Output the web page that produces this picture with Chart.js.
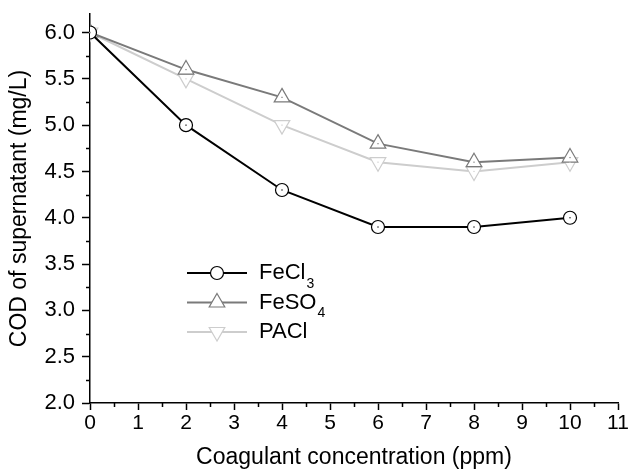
<!DOCTYPE html>
<html>
<head>
<meta charset="utf-8">
<script src="https://cdn.jsdelivr.net/npm/chart.js@4"></script>
<style>
  html, body { margin: 0; padding: 0; background: #fff; }
  #wrap { width: 630px; height: 475px; }
</style>
</head>
<body>
<div id="wrap"><canvas id="codChart" width="630" height="475"></canvas></div>
<script>
// data
const doses = [0, 2, 4, 6, 8, 10];
const fecl3 = [6.0, 5.0, 4.3, 3.9, 3.9, 4.0];
const feso4 = [6.0, 5.6, 5.3, 4.8, 4.6, 4.65];
const pacl = [6.0, 5.5, 5.0, 4.6, 4.5, 4.6];
const seriesNames = ['FeCl3', 'FeSO4', 'PACl'];
const seriesSubs = ['3', '4', ''];          // subscript part of the name
const xTicks = [0, 1, 2, 3, 4, 5, 6, 7, 8, 9, 10, 11];
const yTicks = [2.0, 2.5, 3.0, 3.5, 4.0, 4.5, 5.0, 5.5, 6.0];

const FONT = "'Liberation Sans', Arial, sans-serif";

function pts(ys) {
    return doses.map((x, i) => ({ x: x, y: ys[i] }));
}

// minor ticks + centre dots of the hollow markers
const extras = {
    id: 'extras',
    afterDatasetsDraw(chart) {
        const ctx = chart.ctx;
        const xs = chart.scales.x, ys = chart.scales.y;
        ctx.save();
        ctx.strokeStyle = '#000';
        ctx.lineWidth = 1.5;
        ctx.beginPath();
        for (let v = 0.5; v < 11; v += 1) {
            const px = Math.round(xs.getPixelForValue(v)) + 0.5;
            ctx.moveTo(px, xs.top);
            ctx.lineTo(px, xs.top + 4);
        }
        for (let v = 2.25; v < 6.2; v += 0.5) {
            const py = Math.round(ys.getPixelForValue(v)) + 0.5;
            ctx.moveTo(ys.right, py);
            ctx.lineTo(ys.right - 4, py);
        }
        ctx.stroke();
        chart.data.datasets.forEach((ds, i) => {
            chart.getDatasetMeta(i).data.forEach(p => {
                ctx.fillStyle = ds.borderColor;
                ctx.fillRect(p.x - 0.6, p.y - 0.6, 1.2, 1.2);
            });
        });
        ctx.restore();
    }
};

// legend drawn inside the plot area
const innerLegend = {
    id: 'innerLegend',
    afterDraw(chart) {
        const ctx = chart.ctx;
        ctx.save();
        chart.data.datasets.forEach((ds, i) => {
            const y = 273 + i * 29.5;
            ctx.strokeStyle = ds.borderColor;
            ctx.lineWidth = 2;
            ctx.beginPath();
            ctx.moveTo(187, y);
            ctx.lineTo(247, y);
            ctx.stroke();
            ctx.fillStyle = '#fff';
            ctx.lineWidth = 1.2;
            Chart.helpers.drawPoint(ctx, {
                pointStyle: ds.pointStyle,
                rotation: ds.pointRotation || 0,
                radius: ds.pointRadius,
                borderWidth: 1.2
            }, 217, y);
            ctx.fillStyle = '#000';
            ctx.font = '22px ' + FONT;
            ctx.textBaseline = 'middle';
            const sub = seriesSubs[i];
            const main = sub ? seriesNames[i].slice(0, -sub.length) : seriesNames[i];
            ctx.fillText(main, 259, y);
            if (sub) {
                const w = ctx.measureText(main).width;
                ctx.font = '14px ' + FONT;
                ctx.fillText(sub, 259 + w + 1, y + 11);
            }
        });
        ctx.restore();
    }
};

new Chart('codChart', {
    type: 'line',
    data: {
        datasets: [
            { label: seriesNames[0], data: pts(fecl3), borderColor: '#000000', backgroundColor: '#fff',
              borderWidth: 2, pointStyle: 'circle', pointRadius: 6.5, pointBorderWidth: 1.2, pointBackgroundColor: '#fff' },
            { label: seriesNames[1], data: pts(feso4), borderColor: '#7a7a7a', backgroundColor: '#fff',
              borderWidth: 2, pointStyle: 'triangle', pointRadius: 9, pointBorderWidth: 1.2, pointBackgroundColor: '#fff' },
            { label: seriesNames[2], data: pts(pacl), borderColor: '#cdcdcd', backgroundColor: '#fff',
              borderWidth: 2, pointStyle: 'triangle', pointRotation: 180, pointRadius: 9, pointBorderWidth: 1.2, pointBackgroundColor: '#fff' }
        ]
    },
    options: {
        responsive: false,
        animation: false,
        layout: { padding: { top: 14, right: 12, left: 0, bottom: 0 } },
        plugins: { legend: { display: false }, tooltip: { enabled: false } },
        scales: {
            x: {
                type: 'linear', min: 0, max: 11,
                afterBuildTicks: s => { s.ticks = xTicks.map(v => ({ value: v })); },
                afterFit: s => { s.height = 72; },
                grid: { drawOnChartArea: false, drawTicks: true, tickLength: 7, tickWidth: 1.5, tickColor: '#000' },
                border: { display: true, color: '#000', width: 1.5 },
                ticks: { color: '#000', padding: 1, font: { family: FONT, size: 21 }, maxRotation: 0 },
                title: { display: true, text: 'Coagulant concentration (ppm)', color: '#000',
                         font: { family: FONT, size: 23 }, padding: { top: 6 } }
            },
            y: {
                type: 'linear', min: 2, max: 6.2,
                afterBuildTicks: s => { s.ticks = yTicks.map(v => ({ value: v })); },
                afterFit: s => { s.width = 90; s.paddingTop = 0; s.paddingBottom = 0; },
                grid: { drawOnChartArea: false, drawTicks: true, tickLength: 8, tickWidth: 1.5, tickColor: '#000' },
                border: { display: true, color: '#000', width: 1.5 },
                ticks: { color: '#000', padding: 7, font: { family: FONT, size: 22 },
                         callback: v => Number(v).toFixed(1) },
                title: { display: true, text: 'COD of supernatant (mg/L)', color: '#000',
                         font: { family: FONT, size: 23 }, padding: { top: 6, bottom: 0 } }
            }
        }
    },
    plugins: [extras, innerLegend]
});
</script>
</body>
</html>
